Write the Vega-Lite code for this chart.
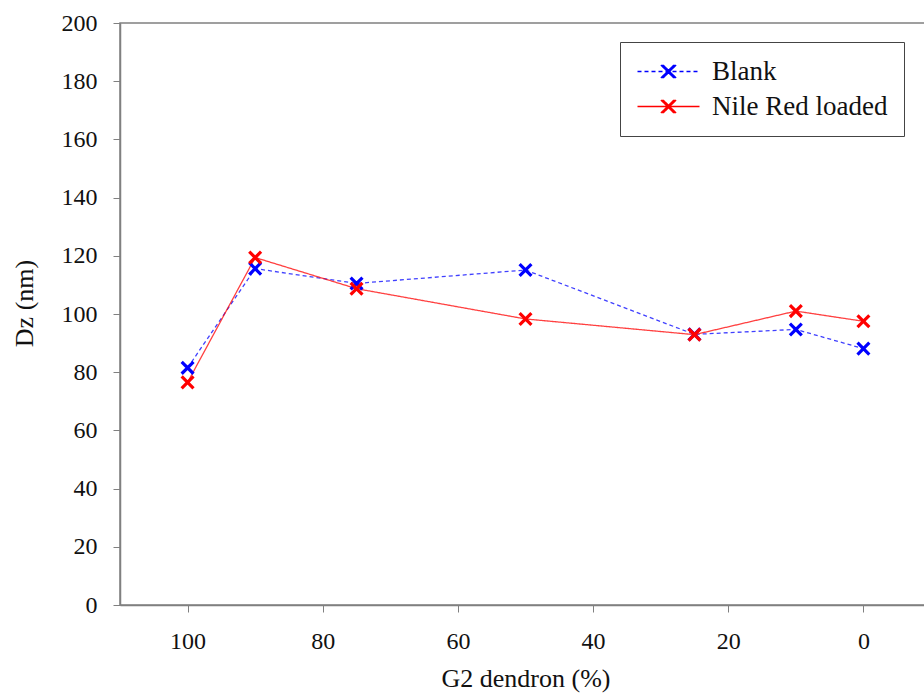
{
  "$schema": "https://vega.github.io/schema/vega-lite/v6.json",
  "autosize": {"type": "none"},
  "padding": {"left": 120, "top": 23, "right": 0, "bottom": 88},
  "width": 811,
  "height": 582,
  "background": "white",
  "config": {
    "font": "Liberation Serif",
    "view": {"stroke": "#808080", "strokeWidth": 1.5},
    "axis": {
      "grid": false,
      "domainColor": "#808080",
      "domainWidth": 1.5,
      "tickColor": "#808080",
      "tickSize": 7,
      "labelFont": "Liberation Serif",
      "labelFontSize": 24,
      "labelColor": "#111",
      "titleFont": "Liberation Serif",
      "titleFontSize": 26,
      "titleFontWeight": "normal",
      "titleColor": "#111"
    }
  },
  "data": {
    "values": [
      {"g2": 100, "dz": 81.5, "series": "Blank"},
      {"g2": 90, "dz": 115.6, "series": "Blank"},
      {"g2": 75, "dz": 110.5, "series": "Blank"},
      {"g2": 50, "dz": 115.1, "series": "Blank"},
      {"g2": 25, "dz": 93.0, "series": "Blank"},
      {"g2": 10, "dz": 94.7, "series": "Blank"},
      {"g2": 0, "dz": 88.1, "series": "Blank"},
      {"g2": 100, "dz": 76.5, "series": "Nile Red loaded"},
      {"g2": 90, "dz": 119.4, "series": "Nile Red loaded"},
      {"g2": 75, "dz": 108.7, "series": "Nile Red loaded"},
      {"g2": 50, "dz": 98.3, "series": "Nile Red loaded"},
      {"g2": 25, "dz": 92.9, "series": "Nile Red loaded"},
      {"g2": 10, "dz": 101.0, "series": "Nile Red loaded"},
      {"g2": 0, "dz": 97.5, "series": "Nile Red loaded"}
    ]
  },
  "encoding": {
    "x": {
      "field": "g2",
      "type": "quantitative",
      "scale": {"domain": [-10, 110], "reverse": true, "nice": false, "zero": false},
      "axis": {"values": [100, 80, 60, 40, 20, 0], "labelFont": "Liberation Serif", "titleFont": "Liberation Serif", "labelPadding": 17, "title": "G2 dendron (%)", "titlePadding": 12}
    },
    "y": {
      "field": "dz",
      "type": "quantitative",
      "scale": {"domain": [0, 200], "nice": false},
      "axis": {"values": [0, 20, 40, 60, 80, 100, 120, 140, 160, 180, 200], "labelFont": "Liberation Serif", "titleFont": "Liberation Serif", "labelPadding": 16, "title": "Dz (nm)", "titlePadding": 24, "titleY": 280}
    }
  },
  "layer": [
    {
      "mark": {"type": "line", "strokeWidth": 1.3, "opacity": 0.75},
      "encoding": {
        "stroke": {
          "field": "series",
          "type": "nominal",
          "scale": {"domain": ["Blank", "Nile Red loaded"], "range": ["#0000ff", "#ff0000"]},
          "legend": {
            "orient": "none",
            "legendX": 500,
            "legendY": 19,
            "title": null,
            "symbolType": "M-2.4,0L10,0M2.5,-1.3L2.93,-0.87M2.93,-0.87L3.37,-0.43M3.37,-0.43L3.8,0M3.8,0L4.23,0.43M4.23,0.43L4.67,0.87M4.67,0.87L5.1,1.3M2.28,-1.3L2.71,-0.87M2.71,-0.87L3.15,-0.43M3.15,-0.43L3.58,0M3.58,0L4.01,0.43M4.01,0.43L4.45,0.87M4.45,0.87L4.88,1.3M2.72,-1.3L3.15,-0.87M3.15,-0.87L3.59,-0.43M3.59,-0.43L4.02,0M4.02,0L4.45,0.43M4.45,0.43L4.89,0.87M4.89,0.87L5.32,1.3M2.5,1.3L2.93,0.87M2.93,0.87L3.37,0.43M3.37,0.43L3.8,0M3.8,0L4.23,-0.43M4.23,-0.43L4.67,-0.87M4.67,-0.87L5.1,-1.3M2.28,1.3L2.71,0.87M2.71,0.87L3.15,0.43M3.15,0.43L3.58,0M3.58,0L4.01,-0.43M4.01,-0.43L4.45,-0.87M4.45,-0.87L4.88,-1.3M2.72,1.3L3.15,0.87M3.15,0.87L3.59,0.43M3.59,0.43L4.02,0M4.02,0L4.45,-0.43M4.45,-0.43L4.89,-0.87M4.89,-0.87L5.32,-1.3",
            "symbolSize": 100,
            "symbolStrokeWidth": 1.4,
            "symbolOpacity": 1,
            "symbolFillColor": "transparent",
            "labelFont": "Liberation Serif",
            "labelFontSize": 27,
            "labelColor": "#111",
            "labelOffset": 49,
            "labelLimit": 400,
            "labelExpr": "datum.label + '  '",
            "rowPadding": 7,
            "padding": 16,
            "strokeColor": "#444"
          }
        },
        "strokeDash": {
          "field": "series",
          "type": "nominal",
          "scale": {"domain": ["Blank", "Nile Red loaded"], "range": [[4, 3], [1, 0]]},
          "legend": null
        }
      }
    },
    {
      "mark": {"type": "point", "shape": "M-1,-1L1,1M-1,1L1,-1", "filled": false, "size": 140, "strokeWidth": 3.2, "opacity": 1},
      "encoding": {
        "color": {
          "field": "series",
          "type": "nominal",
          "scale": {"domain": ["Blank", "Nile Red loaded"], "range": ["#0000ff", "#ff0000"]},
          "legend": null
        }
      }
    }
  ]
}
